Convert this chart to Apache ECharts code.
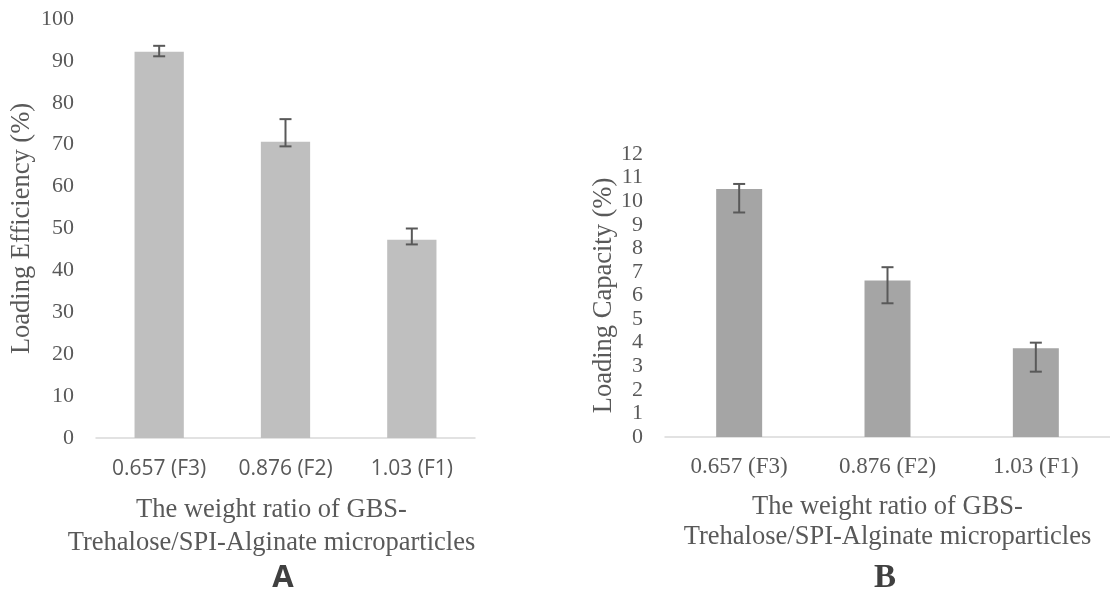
<!DOCTYPE html>
<html><head><meta charset="utf-8">
<script src="https://cdn.jsdelivr.net/npm/echarts@6/dist/echarts.min.js"></script>
<style>html,body{margin:0;padding:0;background:#fff}#c{width:1110px;height:592px}</style>
</head><body><div id="c"></div>
<script>
const categories = ['0.657 (F3)', '0.876 (F2)', '1.03 (F1)'];
const efficiency = [92.2, 70.7, 47.3];
const effErrLow = [91.1, 69.6, 46.2];
const effErrHigh = [93.6, 76.1, 50.0];
const capacity = [10.52, 6.64, 3.76];
const capErrLow = [9.52, 5.67, 2.77];
const capErrHigh = [10.73, 7.20, 4.00];
const effTicks = [0, 10, 20, 30, 40, 50, 60, 70, 80, 90, 100];
const capTicks = [0, 1, 2, 3, 4, 5, 6, 7, 8, 9, 10, 11, 12];

const serif = '"Liberation Serif", "DejaVu Serif", serif';
const sans = '"Open Sans", "Noto Sans", sans-serif';
const txt = '#595959';

function errSeries(xi, yi, low, high) {
  return {
    type: 'custom', xAxisIndex: xi, yAxisIndex: yi, z: 5,
    data: categories.map((c, i) => [i, low[i], high[i]]),
    renderItem: function (params, api) {
      const p1 = api.coord([api.value(0), api.value(1)]);
      const p2 = api.coord([api.value(0), api.value(2)]);
      const hw = 6;
      const st = { stroke: '#595959', lineWidth: 2 };
      return { type: 'group', children: [
        { type: 'line', shape: { x1: p1[0], y1: p1[1], x2: p2[0], y2: p2[1] }, style: st },
        { type: 'line', shape: { x1: p1[0] - hw, y1: p1[1], x2: p1[0] + hw, y2: p1[1] }, style: st },
        { type: 'line', shape: { x1: p2[0] - hw, y1: p2[1], x2: p2[0] + hw, y2: p2[1] }, style: st }
      ]};
    }
  };
}

const chart = echarts.init(document.getElementById('c'));
chart.setOption({
  animation: false,
  backgroundColor: '#fff',
  grid: [
    { left: 96, right: 635, top: 19, bottom: 154 },
    { left: 665, right: -5, top: 154, bottom: 155 }
  ],
  xAxis: [
    { gridIndex: 0, type: 'category', data: categories,
      axisLine: { lineStyle: { color: '#d9d9d9', width: 1.5 } }, axisTick: { show: false },
      axisLabel: { color: txt, fontFamily: sans, fontSize: 21, margin: 21 },
      name: 'The weight ratio of GBS-\nTrehalose/SPI-Alginate microparticles',
      nameLocation: 'middle', nameGap: 56,
      nameTextStyle: { color: txt, fontFamily: serif, fontSize: 26.5, lineHeight: 33, padding: [0, 28, 0, 0] } },
    { gridIndex: 1, type: 'category', data: categories,
      axisLine: { lineStyle: { color: '#d9d9d9', width: 1.5 } }, axisTick: { show: false },
      axisLabel: { color: txt, fontFamily: serif, fontSize: 23, margin: 18 },
      name: 'The weight ratio of GBS-\nTrehalose/SPI-Alginate microparticles',
      nameLocation: 'middle', nameGap: 55,
      nameTextStyle: { color: txt, fontFamily: serif, fontSize: 26.5, lineHeight: 30 } }
  ],
  yAxis: [
    { gridIndex: 0, type: 'value', min: effTicks[0], max: effTicks[effTicks.length - 1], interval: 10,
      axisLine: { show: false }, axisTick: { show: false }, splitLine: { show: false },
      axisLabel: { color: txt, fontFamily: serif, fontSize: 22, margin: 22 },
      name: 'Loading Efficiency (%)', nameLocation: 'middle', nameGap: 60,
      nameTextStyle: { color: txt, fontFamily: serif, fontSize: 26.5 } },
    { gridIndex: 1, type: 'value', min: capTicks[0], max: capTicks[capTicks.length - 1], interval: 1,
      axisLine: { show: false }, axisTick: { show: false }, splitLine: { show: false },
      axisLabel: { color: txt, fontFamily: serif, fontSize: 22, margin: 22 },
      name: 'Loading Capacity (%)', nameLocation: 'middle', nameGap: 47,
      nameTextStyle: { color: txt, fontFamily: serif, fontSize: 26.5 } }
  ],
  series: [
    { type: 'bar', xAxisIndex: 0, yAxisIndex: 0, data: efficiency, barWidth: '39%',
      itemStyle: { color: '#bfbfbf' } },
    errSeries(0, 0, effErrLow, effErrHigh),
    { type: 'bar', xAxisIndex: 1, yAxisIndex: 1, data: capacity, barWidth: '31%',
      itemStyle: { color: '#a5a5a5' } },
    errSeries(1, 1, capErrLow, capErrHigh)
  ],
  graphic: [
    { type: 'text', x: 283, y: 578, style: { text: 'A', fill: '#404040', font: 'bold 31px ' + sans, textAlign: 'center', textVerticalAlign: 'middle' } },
    { type: 'text', x: 885, y: 578, style: { text: 'B', fill: '#404040', font: 'bold 33px ' + serif, textAlign: 'center', textVerticalAlign: 'middle' } }
  ]
});
</script>
</body></html>
